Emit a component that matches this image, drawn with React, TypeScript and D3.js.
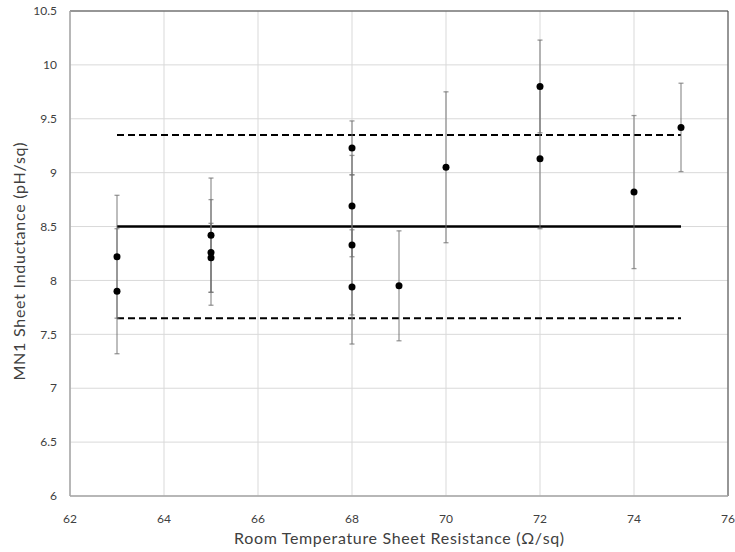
import React, { useEffect, useRef } from 'react';
import * as d3 from 'd3';

const resistance = [63, 63, 65, 65, 65, 68, 68, 68, 68, 69, 70, 72, 72, 74, 75];
const inductance = [8.22, 7.9, 8.42, 8.26, 8.21, 9.23, 8.69, 8.33, 7.94, 7.95, 9.05, 9.8, 9.13, 8.82, 9.42];
const errors = [0.57, 0.58, 0.53, 0.49, 0.32, 0.25, 0.47, 0.65, 0.53, 0.51, 0.7, 0.43, 0.65, 0.71, 0.41];

// Mean and +/- band lines
const meanValue = 8.5;
const bandValues = [9.35, 7.65];
const lineRange = [63, 75];

const xTicks = [62, 64, 66, 68, 70, 72, 74, 76];
const yTicks = [6, 6.5, 7, 7.5, 8, 8.5, 9, 9.5, 10, 10.5];

const xTitle = 'Room Temperature Sheet Resistance (Ω/sq)';
const yTitle = 'MN1 Sheet Inductance (pH/sq)';

const W = 735;
const H = 552;
const margin = { top: 11, right: 7, bottom: 56, left: 70 };

const App = () => {
  const svgRef = useRef<SVGSVGElement>(null);

  useEffect(() => {
    const svg = d3.select(svgRef.current);
    svg.selectAll('*').remove();

    const x = d3.scaleLinear().domain([62, 76]).range([margin.left, W - margin.right]);
    const y = d3.scaleLinear().domain([6, 10.5]).range([H - margin.bottom, margin.top]);
    const font = 'Lato, "Open Sans", sans-serif';

    // gridlines
    svg.append('g')
      .selectAll('line')
      .data(yTicks)
      .join('line')
      .attr('x1', x(62)).attr('x2', x(76))
      .attr('y1', (d) => y(d)).attr('y2', (d) => y(d))
      .attr('stroke', '#d9d9d9').attr('stroke-width', 1);
    svg.append('g')
      .selectAll('line')
      .data(xTicks)
      .join('line')
      .attr('x1', (d) => x(d)).attr('x2', (d) => x(d))
      .attr('y1', y(6)).attr('y2', y(10.5))
      .attr('stroke', '#d9d9d9').attr('stroke-width', 1);

    // plot frame: dark top/right, gray axes left/bottom
    svg.append('line')
      .attr('x1', x(62)).attr('x2', x(76)).attr('y1', y(10.5)).attr('y2', y(10.5))
      .attr('stroke', '#404040').attr('stroke-width', 1);
    svg.append('line')
      .attr('x1', x(76)).attr('x2', x(76)).attr('y1', y(10.5)).attr('y2', y(6))
      .attr('stroke', '#404040').attr('stroke-width', 1);
    svg.append('line')
      .attr('x1', x(62)).attr('x2', x(62)).attr('y1', y(10.5)).attr('y2', y(6))
      .attr('stroke', '#a6a6a6').attr('stroke-width', 1.5);
    svg.append('line')
      .attr('x1', x(62)).attr('x2', x(76)).attr('y1', y(6)).attr('y2', y(6))
      .attr('stroke', '#a6a6a6').attr('stroke-width', 1.5);

    // tick labels
    svg.append('g')
      .selectAll('text')
      .data(yTicks)
      .join('text')
      .attr('x', x(62) - 13)
      .attr('y', (d) => y(d))
      .attr('dy', '0.35em')
      .attr('text-anchor', 'end')
      .style('font-family', font)
      .style('font-size', '12px')
      .style('fill', '#404040')
      .text((d) => String(d));
    svg.append('g')
      .selectAll('text')
      .data(xTicks)
      .join('text')
      .attr('x', (d) => x(d))
      .attr('y', y(6) + 27)
      .attr('text-anchor', 'middle')
      .style('font-family', font)
      .style('font-size', '12px')
      .style('fill', '#404040')
      .text((d) => String(d));

    // axis titles
    svg.append('text')
      .attr('x', (x(62) + x(76)) / 2)
      .attr('y', H - 8)
      .attr('text-anchor', 'middle')
      .attr('textLength', 330)
      .attr('lengthAdjust', 'spacing')
      .style('font-family', font)
      .style('font-size', '16px')
      .style('fill', '#404040')
      .text(xTitle);
    svg.append('text')
      .attr('transform', `translate(25, ${(y(6) + y(10.5)) / 2 + 8}) rotate(-90)`)
      .attr('text-anchor', 'middle')
      .attr('textLength', 238)
      .attr('lengthAdjust', 'spacing')
      .style('font-family', font)
      .style('font-size', '16px')
      .style('fill', '#404040')
      .text(yTitle);

    // mean and band lines
    svg.append('line')
      .attr('x1', x(lineRange[0])).attr('x2', x(lineRange[1]))
      .attr('y1', y(meanValue)).attr('y2', y(meanValue))
      .attr('stroke', '#000').attr('stroke-width', 2.5);
    svg.append('g')
      .selectAll('line')
      .data(bandValues)
      .join('line')
      .attr('x1', x(lineRange[0])).attr('x2', x(lineRange[1]))
      .attr('y1', (d) => y(d)).attr('y2', (d) => y(d))
      .attr('stroke', '#000').attr('stroke-width', 2)
      .attr('stroke-dasharray', '7,4');

    const pts = resistance.map((r, i) => ({ r, v: inductance[i], e: errors[i] }));

    // error bars
    const eb = svg.append('g')
      .attr('stroke', '#6f6f6f')
      .attr('stroke-opacity', 0.7)
      .attr('stroke-width', 1.3);
    pts.forEach((p) => {
      const cx = x(p.r);
      eb.append('line')
        .attr('x1', cx).attr('x2', cx)
        .attr('y1', y(p.v - p.e)).attr('y2', y(p.v + p.e));
      [p.v - p.e, p.v + p.e].forEach((c) => {
        eb.append('line')
          .attr('x1', cx - 2.5).attr('x2', cx + 2.5)
          .attr('y1', y(c)).attr('y2', y(c));
      });
    });

    // points
    svg.append('g')
      .selectAll('circle')
      .data(pts)
      .join('circle')
      .attr('cx', (d) => x(d.r))
      .attr('cy', (d) => y(d.v))
      .attr('r', 3.5)
      .attr('fill', '#000');
  }, []);

  return (
    <div style={{ position: 'absolute', left: 0, top: 0 }}>
      <svg ref={svgRef} width={W} height={H} style={{ display: 'block', background: '#fff' }} />
    </div>
  );
};

export default App;
